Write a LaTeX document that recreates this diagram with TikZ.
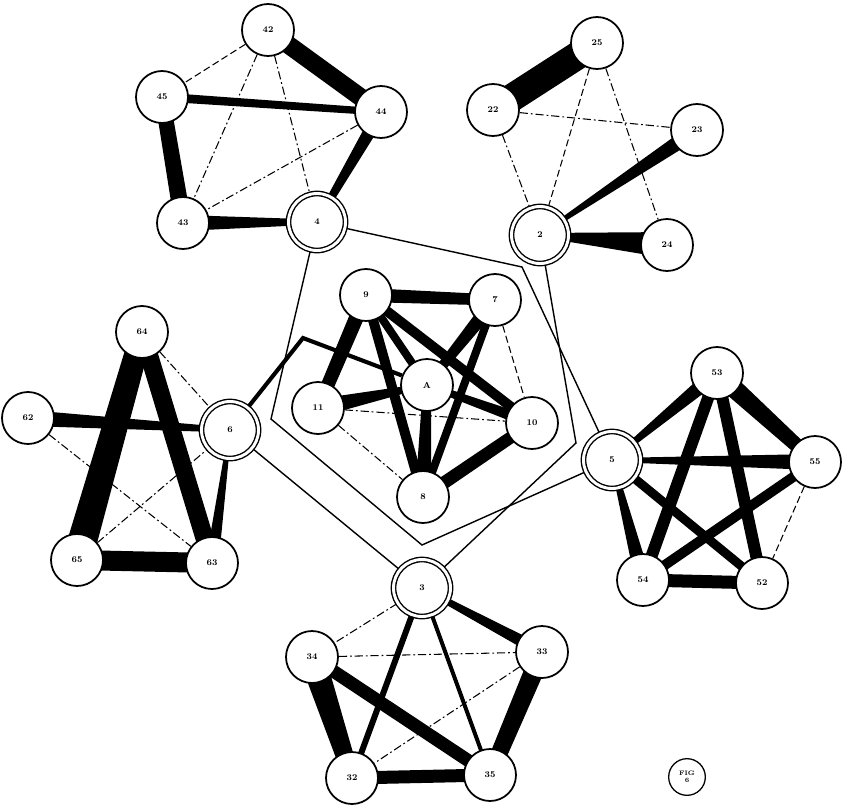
\documentclass[tikz,border=0pt]{standalone}
\usetikzlibrary{calc,backgrounds}
% tapered band between two node centres, widths in px at each end
\newcommand\slab[4]{%
  \fill ($(#1)!#3*0.015cm!90:(#2)$) -- ($(#1)!#3*0.015cm!-90:(#2)$)
    -- ($(#2)!#4*0.015cm!90:(#1)$) -- ($(#2)!#4*0.015cm!-90:(#1)$) -- cycle;}

\begin{document}
\begin{tikzpicture}[x=0.03cm,y=-0.03cm,
  cell/.style={circle,draw,fill=white,line width=1.5pt,minimum size=1.56cm,
    inner sep=0pt,font=\fontsize{7.5}{8}\selectfont\bfseries},
  hub/.style={cell,double,double distance=2.5pt,line width=1.2pt,minimum size=1.71cm},
  dashdot/.style={line width=0.9pt,dash pattern=on 7pt off 2.5pt on 1.5pt off 2.5pt},
  longdash/.style={line width=0.9pt,dash pattern=on 6pt off 3pt},
  frame/.style={line width=1.2pt}]
  \useasboundingbox (0,0) rectangle (842,807);

  % group 4
  \node[hub] (n4) at (317,222) {4};
  \node[cell] (n42) at (268,30) {42};
  \node[cell] (n45) at (162,97) {45};
  \node[cell] (n44) at (381,112) {44};
  \node[cell] (n43) at (183,223) {43};
  % group 2
  \node[hub] (n2) at (540,235) {2};
  \node[cell] (n25) at (597,43) {25};
  \node[cell] (n22) at (493,110) {22};
  \node[cell] (n23) at (697,130) {23};
  \node[cell] (n24) at (667,245) {24};
  % group 6
  \node[hub] (n6) at (230,430) {6};
  \node[cell] (n64) at (142,332) {64};
  \node[cell] (n62) at (28,418) {62};
  \node[cell] (n65) at (77,560) {65};
  \node[cell] (n63) at (212,563) {63};
  % centre
  \node[cell] (n9) at (366,295) {9};
  \node[cell] (n7) at (495,300) {7};
  \node[cell] (nA) at (427,385) {A};
  \node[cell] (n11) at (318,408) {11};
  \node[cell] (n10) at (532,423) {10};
  \node[cell] (n8) at (423,497) {8};
  % group 5
  \node[hub] (n5) at (612,460) {5};
  \node[cell] (n53) at (717,373) {53};
  \node[cell] (n55) at (815,462) {55};
  \node[cell] (n54) at (643,580) {54};
  \node[cell] (n52) at (762,583) {52};
  % group 3
  \node[hub] (n3) at (422,588) {3};
  \node[cell] (n34) at (312,657) {34};
  \node[cell] (n33) at (542,652) {33};
  \node[cell] (n32) at (352,778) {32};
  \node[cell] (n35) at (490,775) {35};

  \node[circle,draw,line width=1.1pt,minimum size=1.1cm,inner sep=0pt,align=center,
    font=\fontsize{5.5}{6}\selectfont\bfseries] (fig) at (687,777) {FIG\\6};

  \coordinate (p1) at (522,267);
  \coordinate (p3) at (422,545);
  \coordinate (p4) at (271,419);
  \coordinate (p5) at (576,443);
  \coordinate (p6) at (303,338);

  \begin{pgfonlayer}{background}
    % group 4
    \slab{n42}{n44}{18}{18}
    \slab{n45}{n44}{9}{7}
    \slab{n45}{n43}{15}{17}
    \slab{n43}{n4}{16}{5}
    \slab{n44}{n4}{14}{6}
    \draw[longdash] (n42) -- (n45);
    \draw[dashdot] (n42) -- (n43) (n42) -- (n4) (n44) -- (n43);
    % group 2
    \slab{n22}{n25}{28}{28}
    \slab{n23}{n2}{16}{3}
    \slab{n24}{n2}{26}{4}
    \draw[dashdot] (n22) -- (n23) (n22) -- (n2) (n25) -- (n24);
    \draw[longdash] (n25) -- (n2);
    % group 6
    \slab{n64}{n65}{22}{30}
    \slab{n64}{n63}{18}{18}
    \slab{n62}{n6}{16}{5}
    \slab{n65}{n63}{20}{20}
    \slab{n6}{n63}{3}{13}
    \draw[dashdot] (n64) -- (n6) (n62) -- (n63) (n65) -- (n6);
    % centre
    \slab{n9}{n7}{14}{11}
    \slab{n9}{n11}{15}{13}
    \slab{n9}{nA}{8}{8}
    \slab{n9}{n8}{10}{10}
    \slab{n9}{n10}{10}{10}
    \slab{n7}{nA}{15}{8}
    \slab{n7}{n8}{8}{8}
    \slab{n11}{nA}{18}{4}
    \slab{nA}{n10}{6}{12}
    \slab{nA}{n8}{8}{16}
    \slab{n8}{n10}{13}{12}
    \draw[longdash] (n7) -- (n10);
    \draw[dashdot] (n11) -- (n10) (n11) -- (n8);
    % group 5
    \slab{n53}{n5}{16}{4}
    \slab{n53}{n55}{20}{13}
    \slab{n53}{n54}{12}{12}
    \slab{n53}{n52}{12}{12}
    \slab{n5}{n55}{4}{16}
    \slab{n5}{n54}{4}{16}
    \slab{n5}{n52}{9}{9}
    \slab{n55}{n54}{10}{10}
    \slab{n54}{n52}{13}{13}
    \draw[longdash] (n55) -- (n52);
    % group 3
    \slab{n3}{n33}{5}{13}
    \slab{n3}{n32}{6}{6}
    \slab{n3}{n35}{4}{4}
    \slab{n34}{n35}{13}{13}
    \slab{n34}{n32}{26}{16}
    \slab{n33}{n35}{20}{16}
    \slab{n32}{n35}{13}{13}
    \draw[dashdot] (n3) -- (n34) (n34) -- (n33) (n33) -- (n32);
    % links between groups
    \draw[frame] (n4) -- (p1) -- (n5) -- (p3) -- (p4) -- (n4);
    \draw[frame] (n2) -- (p5) -- (n3) (n6) -- (n3);
    \draw[line width=3.5pt] (n6) -- (p6) -- (nA);
  \end{pgfonlayer}
\end{tikzpicture}
\end{document}
